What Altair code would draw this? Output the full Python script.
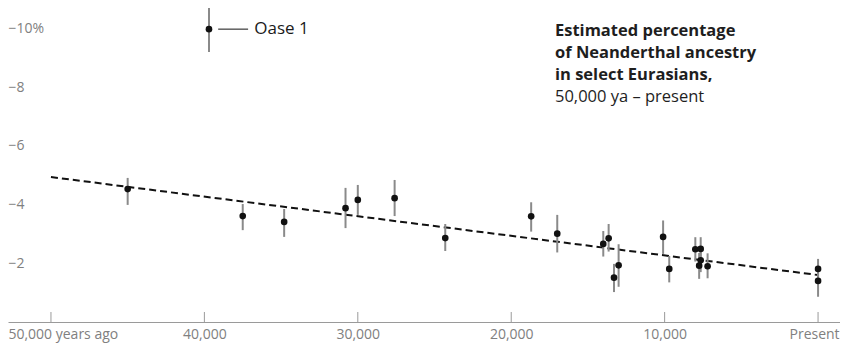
import altair as alt
import pandas as pd

# ---- data ----
years = [45000, 37500, 34800, 30800, 30000, 27600, 24300, 18700, 17000, 14000, 13650,
         13300, 13000, 10100, 9700, 8000, 7650, 7650, 7750, 7200, 0, 0]
pct = [4.53, 3.61, 3.41, 3.88, 4.16, 4.22, 2.86, 3.60, 3.01, 2.66, 2.85,
       1.51, 1.93, 2.90, 1.81, 2.48, 2.49, 2.10, 1.92, 1.90, 1.81, 1.40]
low = [3.99, 3.13, 2.90, 3.20, 3.65, 3.61, 2.42, 3.08, 2.37, 2.23, 2.40,
       1.02, 1.20, 2.32, 1.35, 2.06, 2.11, 1.70, 1.47, 1.49, 1.45, 0.86]
high = [4.91, 4.02, 3.85, 4.57, 4.67, 4.84, 3.34, 4.08, 3.65, 3.10, 3.34,
        1.98, 2.65, 3.46, 2.25, 2.89, 2.89, 2.50, 2.35, 2.34, 2.15, 1.80]

oase_year = [39700]
oase_pct = [9.98]
oase_low = [9.20]
oase_high = [10.77]
oase_label = ["Oase 1"]
oase_leader_x = [39100, 37150]
oase_label_x = [36750]

trend_years = [50000, 0]
trend_pct = [4.94, 1.60]

x_ticks = [50000, 40000, 30000, 20000, 10000, 0]
y_ticks = [2, 4, 6, 8, 10]

title_lines = ["Estimated percentage", "of Neanderthal ancestry", "in select Eurasians,"]
subtitle = "50,000 ya \u2013 present"

FONT = "Open Sans"
W, H = 832, 314

pts = pd.DataFrame({"year": years, "pct": pct, "low": low, "high": high})
oase = pd.DataFrame({"year": oase_year, "pct": oase_pct, "low": oase_low,
                     "high": oase_high, "label": oase_label, "lx": oase_label_x})
leader = pd.DataFrame({"x1": [oase_leader_x[0]], "x2": [oase_leader_x[1]], "pct": oase_pct})
trend = pd.DataFrame({"year": trend_years, "pct": trend_pct})
ticks = pd.DataFrame({"year": x_ticks})

xs = alt.Scale(domain=[-1430, 52800], reverse=True, nice=False, zero=False)
ys = alt.Scale(domain=[0, 10.70], nice=False, zero=False)

x_axis = alt.Axis(
    values=x_ticks, grid=False, ticks=False, domain=True, domainColor="#9a9a9a",
    domainWidth=1, labelColor="#808080", labelFont=FONT, labelFontSize=14,
    labelPadding=5, title=None, labelBound=False,
    labelExpr="datum.value == 50000 ? '50,000 years ago' : datum.value == 0 ? 'Present' : format(datum.value, ',')",
    labelAlign={"condition": {"test": "datum.value == 50000", "value": "left"}, "value": "center"},
    labelOffset={"condition": [{"test": "datum.value == 50000", "value": -43},
                               {"test": "datum.value == 0", "value": -4}],
                 "value": 0},
)
y_axis = alt.Axis(
    values=y_ticks, grid=False, ticks=False, domain=False, labelAlign="left",
    labelPadding=0, labelColor="#808080", labelFont=FONT, labelFontSize=14, title=None,
    labelExpr="'\u2212' + datum.value + (datum.value == 10 ? '%' : '')",
)

base_x = alt.X("year:Q", scale=xs, axis=x_axis)
base_y = alt.Y("pct:Q", scale=ys, axis=y_axis)

tick_rules = alt.Chart(ticks).mark_rule(color="#9a9a9a", strokeWidth=1).encode(
    x=alt.X("year:Q", scale=xs), y=alt.value(H - 10), y2=alt.value(H)
)

trend_line = alt.Chart(trend).mark_line(color="#111111", strokeWidth=2, strokeDash=[7, 4]).encode(
    x=base_x, y=base_y
)

err = alt.Chart(pts).mark_rule(color="#8a8a8a", strokeWidth=2).encode(
    x=alt.X("year:Q", scale=xs), y=alt.Y("low:Q", scale=ys), y2="high:Q"
)
dots = alt.Chart(pts).mark_circle(color="#111111", size=44, opacity=1).encode(
    x=alt.X("year:Q", scale=xs), y=alt.Y("pct:Q", scale=ys)
)

oase_err = alt.Chart(oase).mark_rule(color="#8a8a8a", strokeWidth=2).encode(
    x=alt.X("year:Q", scale=xs), y=alt.Y("low:Q", scale=ys), y2="high:Q"
)
oase_dot = alt.Chart(oase).mark_circle(color="#111111", size=44, opacity=1).encode(
    x=alt.X("year:Q", scale=xs), y=alt.Y("pct:Q", scale=ys)
)
oase_leader = alt.Chart(leader).mark_rule(color="#111111", strokeWidth=1).encode(
    x=alt.X("x1:Q", scale=xs), x2="x2:Q", y=alt.Y("pct:Q", scale=ys)
)
oase_text = alt.Chart(oase).mark_text(
    align="left", baseline="middle", font=FONT, fontSize=17, color="#1a1a1a"
).encode(
    x=alt.X("lx:Q", scale=xs), y=alt.Y("pct:Q", scale=ys), text="label:N"
)

title_layers = []
for i, line in enumerate(title_lines):
    title_layers.append(
        alt.Chart(pd.DataFrame({"t": [line]})).mark_text(
            align="left", baseline="middle", font=FONT, fontSize=16.5, fontWeight="bold", color="#1e1e1e"
        ).encode(x=alt.value(547), y=alt.value(23 + 22 * i), text="t:N")
    )
title_layers.append(
    alt.Chart(pd.DataFrame({"t": [subtitle]})).mark_text(
        align="left", baseline="middle", font=FONT, fontSize=16.5, color="#1e1e1e"
    ).encode(x=alt.value(547), y=alt.value(23 + 22 * 3), text="t:N")
)

chart = alt.layer(
    trend_line, tick_rules, err, dots, oase_err, oase_dot, oase_leader, oase_text, *title_layers
).properties(
    width=W, height=H, background="white",
    autosize=alt.AutoSizeParams(type="none"),
    padding={"left": 0, "top": 0, "right": 0, "bottom": 26},
).configure_view(stroke=None)

chart.save("out.html", embed_options={"renderer": "svg", "actions": False})
